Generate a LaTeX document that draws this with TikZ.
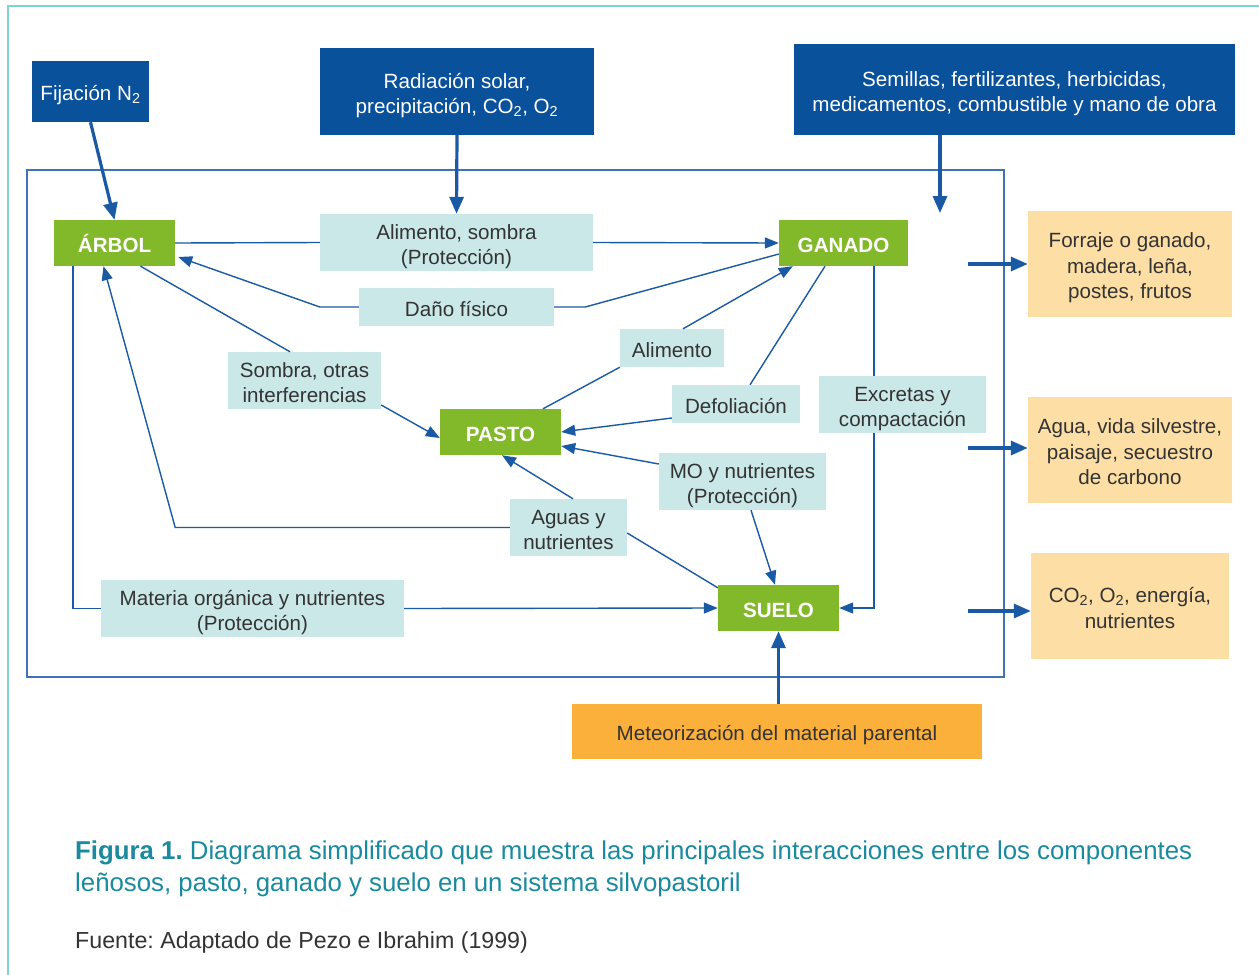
\documentclass[tikz,border=0pt]{standalone}
\usepackage{fontspec}
\setmainfont{Liberation Sans}
\usetikzlibrary{arrows.meta,calc}
\definecolor{dkblue}{HTML}{0A519C}
\definecolor{grn}{HTML}{82B92B}
\definecolor{cyanl}{HTML}{CBE8E8}
\definecolor{orl}{HTML}{FDDFA5}
\definecolor{org}{HTML}{FBB03B}
\definecolor{lineb}{HTML}{1A5AA5}
\definecolor{frameb}{HTML}{3F73B6}
\definecolor{tealf}{HTML}{80D4D0}
\definecolor{txt}{HTML}{333333}
\definecolor{capc}{HTML}{1A8A9E}
\newcommand{\topstr}{\rule{0pt}{23.5pt}}
\newcommand{\botstr}{\rule[-4.9pt]{0pt}{0pt}}
\frenchspacing
\begin{document}
\begin{tikzpicture}[x=1pt,y=-1pt,
  box/.style={rectangle, inner sep=0pt, align=center, font=\fontsize{20.6}{25.5}\selectfont,
    execute at begin node={\topstr}, execute at end node={\botstr}},
  src/.style={box, fill=dkblue, text=white},
  comp/.style={box, fill=grn, text=white, font=\fontsize{20.6}{25.5}\selectfont\bfseries},
  lab/.style={box, fill=cyanl, text=txt},
  outb/.style={box, fill=orl, text=txt},
  conn/.style={draw=lineb, line width=1.4pt},
  arr/.style={conn, -{Triangle[length=14pt,width=11pt]}},
  bigarr/.style={draw=lineb, line width=3.2pt, -{Triangle[length=17pt,width=14pt]}}]
\useasboundingbox (0,0) rectangle (1259,975);
\fill[white] (0,0) rectangle (1259,975);
% outer teal frame
\draw[tealf, line width=2pt] (8,975) -- (8,6) -- (1259,6);
% inner frame
\draw[frameb, line width=1.5pt] (27,170) rectangle (1004,677);

% sources
\node[src, minimum width=117pt, minimum height=61pt] (fij) at (90.5,91.5) {Fijación N\textsubscript{2}};
\node[src, minimum width=274pt, minimum height=87pt] (rad) at (457,91.5) {\topstr Radiación solar,\\precipitación, CO\textsubscript{2}, O\textsubscript{2}\botstr};
\node[src, minimum width=441pt, minimum height=91pt] (sem) at (1014.5,89.5) {\topstr Semillas, fertilizantes, herbicidas,\\medicamentos, combustible y mano de obra\botstr};

% components
\node[comp, minimum width=121pt, minimum height=46pt] (arbol) at (114.5,243) {ÁRBOL};
\node[comp, minimum width=129pt, minimum height=46pt] (ganado) at (843.5,243) {GANADO};
\node[comp, minimum width=121pt, minimum height=46pt] (pasto) at (500.5,432) {PASTO};
\node[comp, minimum width=121pt, minimum height=46pt] (suelo) at (778.5,608) {SUELO};

% labels
\node[lab, minimum width=273pt, minimum height=57pt] (lAlim) at (456.5,242.5) {\topstr Alimento, sombra\\(Protección)\botstr};
\node[lab, minimum width=195pt, minimum height=38pt] (lDano) at (456.5,307) {Daño físico};
\node[lab, minimum width=104pt, minimum height=38pt] (lAlimento) at (672,348) {Alimento};
\node[lab, minimum width=153pt, minimum height=57pt] (lSombra) at (304.5,380.5) {\topstr Sombra, otras\\interferencias\botstr};
\node[lab, minimum width=128pt, minimum height=38pt] (lDefol) at (736,404) {Defoliación};
\node[lab, minimum width=167pt, minimum height=57pt] (lExcr) at (902.5,404.5) {\topstr Excretas y\\compactación\botstr};
\node[lab, minimum width=167pt, minimum height=57pt] (lMO) at (742.5,481.5) {\topstr MO y nutrientes\\(Protección)\botstr};
\node[lab, minimum width=117pt, minimum height=57pt] (lAguas) at (568.5,527.5) {\topstr Aguas y\\nutrientes\botstr};
\node[lab, minimum width=303pt, minimum height=57pt] (lMat) at (252.5,608.5) {\topstr Materia orgánica y nutrientes\\(Protección)\botstr};

% bottom source
\node[box, fill=org, text=txt, minimum width=410pt, minimum height=55pt] (meteo) at (777,731.5) {Meteorización del material parental};

% outputs
\node[outb, minimum width=204pt, minimum height=106pt] (out1) at (1130,264) {\topstr Forraje o ganado,\\madera, leña,\\postes, frutos\botstr};
\node[outb, minimum width=204pt, minimum height=106pt] (out2) at (1130,450) {\topstr Agua, vida silvestre,\\paisaje, secuestro\\de carbono\botstr};
\node[outb, minimum width=198pt, minimum height=106pt] (out3) at (1130,606) {\topstr CO\textsubscript{2}, O\textsubscript{2}, energía,\\nutrientes\botstr};

% connectors
\draw[conn] (arbol.east) -- (lAlim.west);
\draw[arr] (lAlim.east) -- (ganado.west);
\draw[conn] ([yshift=-11pt]ganado.west) -- ([xshift=31pt]lDano.east) -- (lDano.east);
\draw[arr] (lDano.west) -- ([xshift=-39pt]lDano.west) -- ([xshift=3pt,yshift=-14pt]arbol.east);
\draw[conn] ([xshift=26pt]arbol.south) -- ([xshift=-14.5pt]lSombra.north);
\draw[arr] ([yshift=-24.5pt]lSombra.east) -- ([yshift=-6pt]pasto.west);
\draw[conn] ([xshift=42.5pt]pasto.north) -- (lAlimento.south west);
\draw[arr] ([xshift=11pt]lAlimento.north) -- ([xshift=14pt]ganado.south west);
\draw[conn] ([xshift=-18.5pt]ganado.south) -- ([xshift=14pt]lDefol.north);
\draw[arr] ([yshift=-14pt]lDefol.west) -- (pasto.east);
\draw[arr] ([yshift=17.5pt]lMO.west) -- ([yshift=-14pt]pasto.east);
\draw[arr] ([xshift=8.5pt]lMO.south) -- ([xshift=-3.5pt]suelo.north);
\coordinate (exX) at ([xshift=30.5pt]ganado.south);
\draw[conn] (exX) -- (exX |- lExcr.north);
\draw[arr] (exX |- lExcr.south) |- (suelo.east);
\draw[arr] ([xshift=4.5pt]lAguas.north) -- ([xshift=1.5pt]pasto.south);
\draw[arr] (lAguas.west) -- (lAguas.west -| arbol.east) -- ([xshift=-11pt]arbol.south);
\draw[conn] ([yshift=-5.5pt]lAguas.east) -- ([yshift=-3pt]suelo.north west);
\draw[conn] ([xshift=19pt]arbol.south west) |- (lMat.west);
\draw[arr] (lMat.east) -- (suelo.west);

% thick arrows
\draw[bigarr] (fij.south) -- (arbol.north);
\draw[bigarr] (rad.south) -- (lAlim.north);
\coordinate (semEnd) at (940,213);
\draw[bigarr] (semEnd |- sem.south) -- (semEnd);
\draw[bigarr] (meteo.north -| suelo.south) -- (suelo.south);
\coordinate (o1) at (968,264);
\coordinate (o2) at (968,448);
\coordinate (o3) at (968,611);
\draw[bigarr] (o1) -- (o1 -| out1.west);
\draw[bigarr] (o2) -- (o2 -| out2.west);
\draw[bigarr] (o3) -- (o3 -| out3.west);

% caption
\node[anchor=base west, inner sep=0pt, text=capc, font=\fontsize{25.8}{32}\selectfont] (cap1) at (75,859) {\textbf{Figura 1.} Diagrama simplificado que muestra las principales interacciones entre los componentes};
\node[anchor=base west, inner sep=0pt, text=capc, font=\fontsize{25.8}{32}\selectfont] (cap2) at (75,891) {leñosos, pasto, ganado y suelo en un sistema silvopastoril};
\node[anchor=base west, inner sep=0pt, text=txt, font=\fontsize{23.2}{28}\selectfont] (fuente) at (75,948) {Fuente: Adaptado de Pezo e Ibrahim (1999)};
\end{tikzpicture}
\end{document}
